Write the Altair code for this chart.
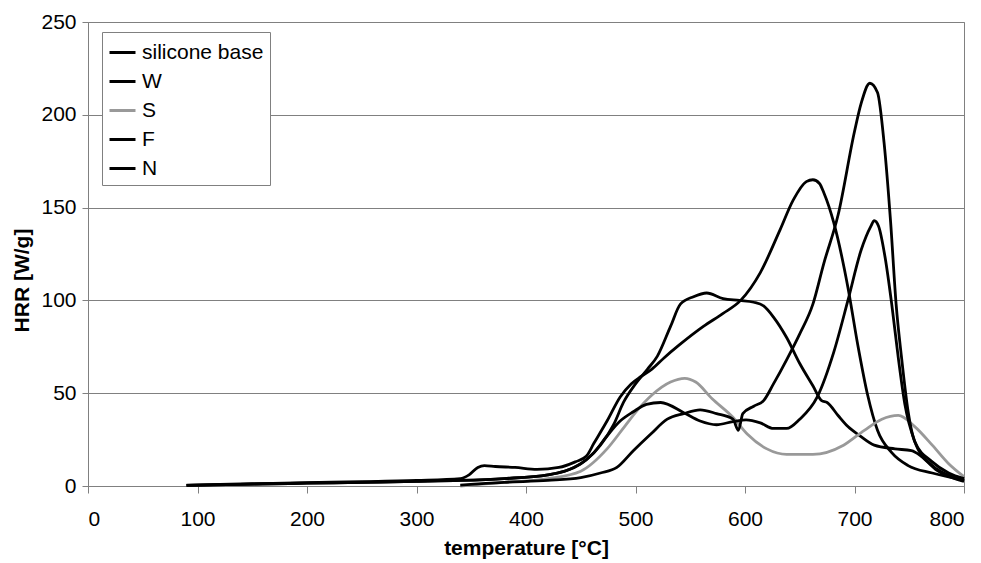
import altair as alt
import pandas as pd

SERIES = ["silicone base", "W", "S", "F", "N"]
COLORS = ["#000000", "#000000", "#999999", "#000000", "#000000"]
X_TICKS = [0, 100, 200, 300, 400, 500, 600, 700, 800]
Y_TICKS = [0, 50, 100, 150, 200, 250]

# silicone base
T_BASE = [90, 150, 200, 250, 300, 340, 380, 420, 440, 455, 468, 480, 489, 500, 511, 520, 532, 541, 553, 565, 580, 595, 608, 617, 626, 638, 650, 662, 670, 675, 685, 694, 705, 718, 737, 752, 761, 774, 787, 800]
V_BASE = [0.3, 1, 1.5, 2, 2.5, 3, 4, 6, 9, 14, 22, 33, 45, 55, 63, 70, 86, 98, 102, 104, 101, 100, 99, 97, 91, 80, 66, 54, 46, 45, 38, 32, 27, 22, 20, 19, 16, 9, 5, 2.5]

# W
T_W = [90, 150, 200, 250, 300, 340, 348, 356, 362, 372, 390, 410, 430, 445, 455, 462, 474, 486, 496, 505, 515, 526, 540, 562, 580, 596, 614, 632, 644, 656, 662, 668, 672, 681, 694, 703, 712, 721, 734, 749, 771, 800]
V_W = [0.5, 1.2, 1.8, 2.3, 3, 4, 6, 10, 11, 10.5, 10, 9, 10, 13, 16, 23, 35, 48, 55, 59, 63, 69, 76, 86, 93, 100, 115, 138, 154, 164, 165, 163, 158, 142, 107, 76, 49, 30, 18, 11, 7, 3]

# S
T_S = [340, 380, 420, 450, 474, 490, 502, 515, 532, 545, 555, 570, 589, 602, 620, 638, 662, 690, 709, 725, 740, 755, 771, 786, 800]
V_S = [0, 2, 4, 8, 20, 32, 41, 49, 56, 58, 56, 47, 37, 28, 20, 17, 17, 22, 30, 36, 38, 32, 22, 12, 5]

# F
T_F = [340, 380, 420, 450, 468, 483, 498, 514, 529, 544, 559, 574, 589, 594, 598, 608, 617, 626, 638, 650, 662, 672, 685, 700, 706, 714, 721, 727, 733, 738, 743, 749, 755, 771, 786, 800]
V_F = [0.5, 2, 3, 4.5, 7, 10, 19, 28, 36, 39, 41, 39, 36, 30, 39, 43, 46, 55, 68, 82, 98, 120, 146, 191, 206, 217, 212, 185, 142, 98, 69, 40, 24, 13, 7, 4]

# N
T_N = [90, 150, 200, 250, 300, 340, 380, 420, 450, 462, 474, 486, 498, 510, 523, 544, 559, 574, 589, 601, 614, 626, 638, 650, 666, 681, 694, 706, 715, 718, 722, 728, 734, 740, 746, 755, 771, 785, 800]
V_N = [0.3, 1, 1.5, 2, 2.5, 3, 4, 6, 12, 18, 27, 35, 40, 44, 45, 39.5, 35, 33, 34.7, 35.6, 34, 31, 31, 36, 48, 72, 100, 127, 140, 143, 140, 123, 98, 69, 44, 24, 11, 6, 3]

rows = []
for name, ts, vs in [("silicone base", T_BASE, V_BASE), ("W", T_W, V_W), ("S", T_S, V_S),
                     ("F", T_F, V_F), ("N", T_N, V_N)]:
    for i, (t, v) in enumerate(zip(ts, vs)):
        rows.append({"series": name, "T": t, "HRR": v, "ord": i})
df = pd.DataFrame(rows)

FONT = "Liberation Sans"
GRAY = "#808080"

chart = alt.Chart(df).mark_line(strokeWidth=2.8, interpolate="monotone").encode(
    x=alt.X("T:Q", scale=alt.Scale(domain=[0, 800], nice=False),
            axis=alt.Axis(values=X_TICKS, title="temperature [°C]", grid=False,
                          tickSize=7, labelPadding=15, titleX=438, titleY=68,
                          titleBaseline="alphabetic", titleAlign="center")),
    y=alt.Y("HRR:Q", scale=alt.Scale(domain=[0, 250], nice=False),
            axis=alt.Axis(values=Y_TICKS, title="HRR [W/g]", grid=True,
                          tickSize=6, labelPadding=6, titleX=-66, titleY=258,
                          titleAngle=270, titleBaseline="middle", titleAlign="center")),
    color=alt.Color("series:N", scale=alt.Scale(domain=SERIES, range=COLORS),
                    legend=alt.Legend(title=None, orient="none", legendX=14, legendY=10,
                                      fillColor="white", strokeColor=GRAY, padding=6,
                                      symbolType="stroke", symbolStrokeWidth=3, symbolSize=676,
                                      labelFontSize=21, labelFont=FONT, labelOffset=5,
                                      rowPadding=4, labelColor="black")),
    order=alt.Order("ord:Q"),
).properties(
    width=876, height=464,
    autosize=alt.AutoSizeParams(type="none"),
    padding={"left": 80, "top": 14, "right": 9, "bottom": 73},
).configure_view(
    stroke=GRAY, strokeWidth=1
).configure_axis(
    domainColor=GRAY, tickColor=GRAY, gridColor=GRAY, gridOpacity=1, gridWidth=1,
    labelFont=FONT, labelFontSize=21, labelColor="black",
    titleFont=FONT, titleFontSize=21, titleFontWeight="bold", titleColor="black",
)

chart.save("out.html", embed_options={"renderer": "svg", "actions": False})
